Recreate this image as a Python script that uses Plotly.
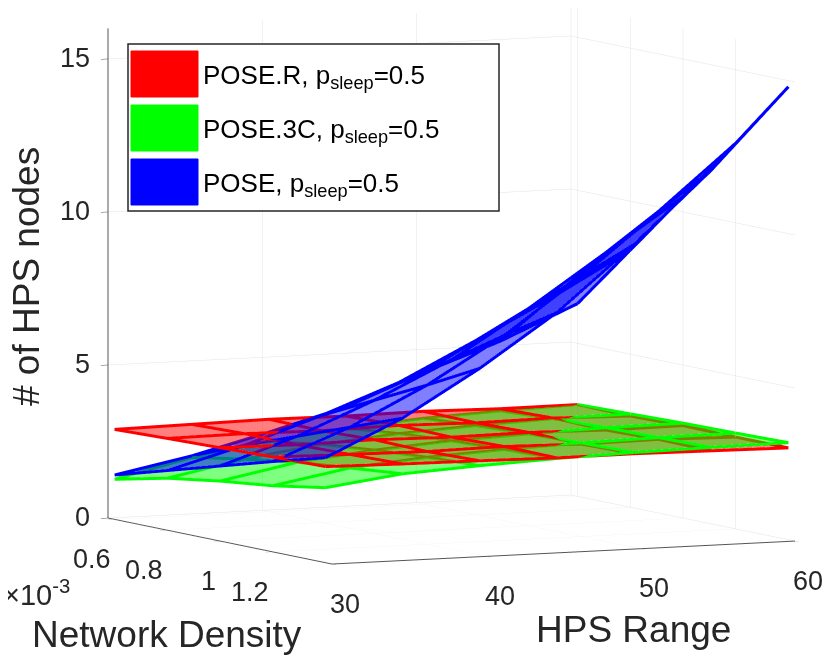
import plotly.graph_objects as go

hps_range = [30, 35, 40, 45, 50, 55, 60]
density = [0.6e-3, 0.8e-3, 1.0e-3, 1.2e-3, 1.4e-3]
density_ticks = [0.6e-3, 0.8e-3, 1.0e-3, 1.2e-3]
density_labels = ['0.6', '0.8', '1', '1.2']
z_ticks = [0, 5, 10, 15]
hps_ticks = [30, 40, 50, 60]

# rows = density, cols = HPS range
pose_r = [
    [2.94, 2.98, 3.02, 3.00, 3.03, 2.99, 3.00],
    [3.00, 3.03, 3.00, 3.05, 3.01, 3.04, 2.98],
    [3.05, 3.02, 3.06, 3.02, 3.05, 3.00, 3.02],
    [3.10, 3.06, 3.03, 3.07, 3.02, 3.05, 3.00],
    [3.14, 3.10, 3.08, 3.05, 3.06, 3.03, 3.00],
]
pose_3c = [
    [1.31, 1.90, 2.30, 2.60, 2.80, 2.92, 3.00],
    [1.70, 2.20, 2.55, 2.78, 2.92, 3.02, 3.05],
    [1.96, 2.45, 2.72, 2.90, 3.00, 3.08, 3.10],
    [2.16, 2.62, 2.84, 2.97, 3.06, 3.11, 3.13],
    [2.45, 2.78, 2.92, 3.03, 3.10, 3.14, 3.17],
]
pose = [
    [1.45, 1.95, 2.60, 3.30, 4.30, 5.20, 6.30],
    [1.95, 2.65, 3.50, 4.45, 5.70, 7.00, 8.40],
    [2.45, 3.30, 4.35, 5.55, 7.10, 8.80, 10.50],
    [2.95, 3.95, 5.20, 6.70, 8.50, 10.50, 12.60],
    [3.43, 4.60, 6.10, 7.80, 9.90, 12.20, 14.80],
]

names = ['POSE.R, p<sub>sleep</sub>=0.5', 'POSE.3C, p<sub>sleep</sub>=0.5', 'POSE, p<sub>sleep</sub>=0.5']
colors = ['#ff0000', '#00ff00', '#0000ff']

fig = go.Figure()


def add_surf(z, color):
    fig.add_trace(go.Surface(
        x=hps_range, y=density, z=z,
        colorscale=[[0, color], [1, color]], showscale=False, opacity=0.5,
        lighting=dict(ambient=1, diffuse=0, specular=0, roughness=1, fresnel=0),
        hoverinfo='skip'))
    xs, ys, zs = [], [], []
    for i, d in enumerate(density):
        xs += hps_range + [None]
        ys += [d] * len(hps_range) + [None]
        zs += z[i] + [None]
    for j, h in enumerate(hps_range):
        xs += [h] * len(density) + [None]
        ys += density + [None]
        zs += [row[j] for row in z] + [None]
    fig.add_trace(go.Scatter3d(x=xs, y=ys, z=zs, mode='lines',
                               line=dict(color=color, width=6),
                               showlegend=False, hoverinfo='skip'))


for z, c in zip([pose_r, pose_3c, pose], colors):
    add_surf(z, c)

ax_common = dict(showbackground=False, gridcolor='#e3e3e3', gridwidth=1,
                 showline=True, linecolor='#555555', linewidth=2,
                 ticks='outside', ticklen=8, tickcolor='#555555',
                 zeroline=False, showspikes=False, showticklabels=False,
                 title=dict(text=' '))

# tick labels as scene annotations (MATLAB puts them farther from the box)
tickfont = dict(family='Liberation Sans', size=27, color='#262626')
scene_ann = []
for t in z_ticks:
    scene_ann.append(dict(x=hps_range[0], y=density[0], z=t, text=str(t), showarrow=False,
                          xanchor='right', yanchor='middle', xshift=-23, yshift=2,
                          font=tickfont))
for t, lab in zip(density_ticks, density_labels):
    scene_ann.append(dict(x=hps_range[0], y=t, z=0, text=lab, showarrow=False,
                          xanchor='right', yanchor='middle', xshift=-2, yshift=-40,
                          font=tickfont))
for t in hps_ticks:
    scene_ann.append(dict(x=t, y=density[-1], z=0, text=str(t), showarrow=False,
                          xanchor='left', yanchor='middle', xshift=3, yshift=-41,
                          font=tickfont))

W, H = 830, 657
OFF = 8  # page offset of the plot div

k = 1.5706
r = 4.0
view_dir = (-0.439, -0.893, 0.101)
cen = (-0.0849, 0.0240, -0.1569)
fig.update_layout(
    width=W, height=H,
    margin=dict(l=0, r=0, t=0, b=0),
    paper_bgcolor='white',
    showlegend=False,
    scene=dict(
        domain=dict(x=[0, 1.0], y=[0, 1.0]),
        aspectmode='manual',
        aspectratio=dict(x=1 * k, y=0.984 * k, z=0.954 * k),
        camera=dict(eye=dict(x=cen[0] + view_dir[0] * r, y=cen[1] + view_dir[1] * r,
                             z=cen[2] + view_dir[2] * r),
                    up=dict(x=0, y=0, z=1), center=dict(x=cen[0], y=cen[1], z=cen[2]),
                    projection=dict(type='orthographic')),
        xaxis=dict(range=[30, 60], tickvals=hps_ticks, **ax_common),
        yaxis=dict(autorange='reversed', tickvals=density_ticks, **ax_common),
        zaxis=dict(range=[0, 16], tickvals=z_ticks, **ax_common),
        annotations=scene_ann,
    ),
)


def px(x):
    return (x - OFF) / W


def py(y):
    return 1 - (y - OFF) / H


# legend box
fig.add_shape(type='rect', xref='paper', yref='paper',
              x0=px(128), x1=px(499), y0=py(211), y1=py(44),
              line=dict(color='#262626', width=1.5), fillcolor='white', layer='above')
patch_tops = [51, 105, 159]
for top, c, name in zip(patch_tops, colors, names):
    fig.add_shape(type='rect', xref='paper', yref='paper',
                  x0=px(131), x1=px(198), y0=py(top + 46), y1=py(top),
                  line=dict(color=c, width=1), fillcolor=c, layer='above')
    fig.add_annotation(xref='paper', yref='paper', x=px(201), y=py(top + 25),
                       xanchor='left', yanchor='middle', showarrow=False,
                       text=name, font=dict(family='Liberation Sans', size=26, color='black'))

labfont = dict(family='Liberation Sans', size=37, color='#262626')
fig.add_annotation(xref='paper', yref='paper', x=px(26), y=py(277), text='# of HPS nodes',
                   xanchor='center', yanchor='middle',
                   textangle=-90, showarrow=False, font=labfont)
fig.add_annotation(xref='paper', yref='paper', x=px(167), y=py(634), text='Network Density',
                   xanchor='center', yanchor='middle', showarrow=False, font=labfont)
fig.add_annotation(xref='paper', yref='paper', x=px(633), y=py(629), text='HPS Range',
                   xanchor='center', yanchor='middle', showarrow=False, font=labfont)
fig.add_annotation(xref='paper', yref='paper', x=px(1), y=py(593), xanchor='left',
                   yanchor='middle', text='×10<sup>-3</sup>', showarrow=False,
                   font=dict(family='Liberation Sans', size=29, color='#262626'))

fig.write_html("out.html")
